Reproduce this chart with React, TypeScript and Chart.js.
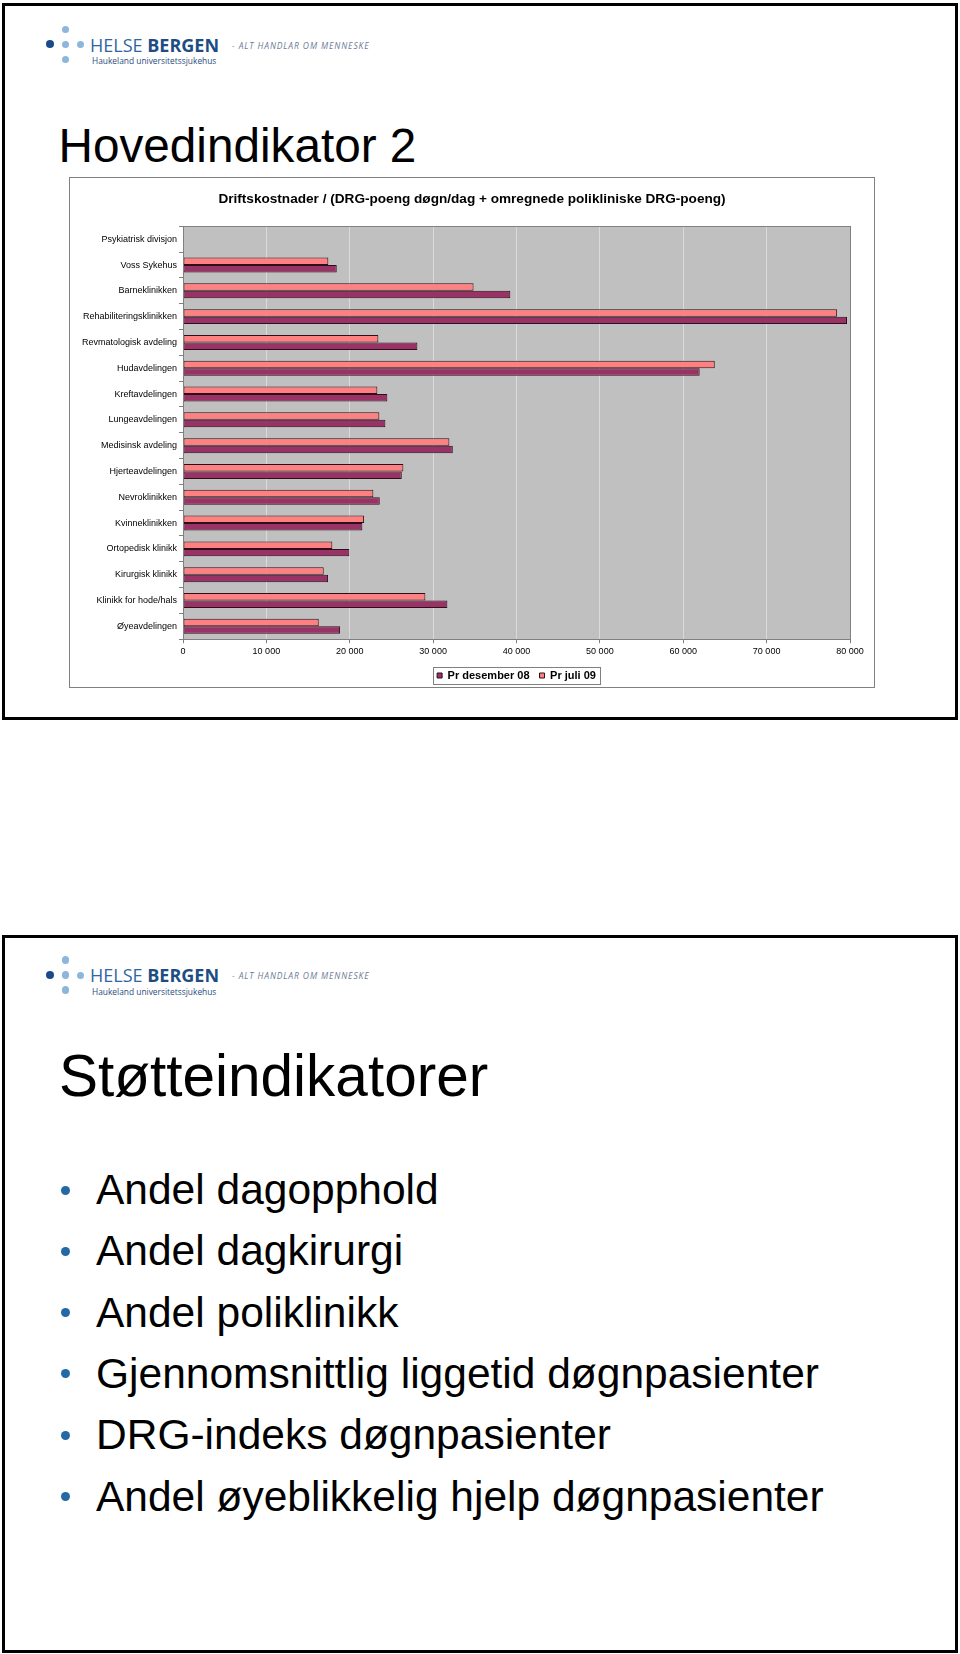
import React, { useEffect, useRef } from 'react';
import { Chart, registerables } from 'chart.js';

Chart.register(...registerables);

// ---- Data ----
const categories = [
  'Psykiatrisk divisjon',
  'Voss Sykehus',
  'Barneklinikken',
  'Rehabiliteringsklinikken',
  'Revmatologisk avdeling',
  'Hudavdelingen',
  'Kreftavdelingen',
  'Lungeavdelingen',
  'Medisinsk avdeling',
  'Hjerteavdelingen',
  'Nevroklinikken',
  'Kvinneklinikken',
  'Ortopedisk klinikk',
  'Kirurgisk klinikk',
  'Klinikk for hode/hals',
  'Øyeavdelingen',
];

const seriesDesember08 = [null, 18440, 39260, 79640, 28110, 61970, 24510, 24270, 32360, 26240, 23600, 21510, 19950, 17400, 31710, 18840];
const seriesJuli09 = [null, 17430, 34850, 78460, 23430, 63780, 23310, 23550, 31950, 26430, 22830, 21720, 17910, 16880, 29070, 16280];

const seriesNames = ['Pr desember 08', 'Pr juli 09'];
const xMin = 0;
const xMax = 80000;
const xStep = 10000;

const chartTitle = 'Driftskostnader / (DRG-poeng døgn/dag + omregnede polikliniske DRG-poeng)';
const slide1Title = 'Hovedindikator 2';
const slide2Title = 'Støtteindikatorer';
const bulletItems = [
  'Andel dagopphold',
  'Andel dagkirurgi',
  'Andel poliklinikk',
  'Gjennomsnittlig liggetid døgnpasienter',
  'DRG-indeks døgnpasienter',
  'Andel øyeblikkelig hjelp døgnpasienter',
];

const FONT = '"Liberation Sans", Arial, Helvetica, sans-serif';
const LOGO_FONT = '"Open Sans", "Noto Sans", sans-serif';

function fmtThousands(v: number | string) {
  return String(v).replace(/\B(?=(\d{3})+(?!\d))/g, ' ');
}

const framePlugin = {
  id: 'excelFrame',
  afterLayout(chart: any) {
    // centre the title over the whole chart box, not the padded area
    const t = chart.titleBlock;
    if (t) {
      t.left = 0;
      t.right = chart.width;
      t.width = chart.width;
    }
  },
  beforeDraw(chart: any) {
    const { ctx, chartArea: a } = chart;
    ctx.save();
    ctx.fillStyle = '#C0C0C0';
    ctx.fillRect(a.left, a.top, a.right - a.left, a.bottom - a.top);
    ctx.restore();
  },
  afterDatasetsDraw(chart: any) {
    const { ctx, chartArea: a } = chart;
    ctx.save();
    ctx.strokeStyle = '#808080';
    ctx.lineWidth = 1;
    ctx.strokeRect(Math.round(a.left) + 0.5, Math.round(a.top) + 0.5, Math.round(a.right - a.left), Math.round(a.bottom - a.top));
    ctx.restore();
  },
  afterDraw(chart: any) {
    const lg = chart.legend;
    if (!lg || !lg.legendHitBoxes || !lg.legendHitBoxes.length) return;
    const hb = lg.legendHitBoxes;
    let l = Infinity, r = -Infinity, t = Infinity, b = -Infinity;
    hb.forEach((h: any) => {
      l = Math.min(l, h.left);
      r = Math.max(r, h.left + h.width);
      t = Math.min(t, h.top);
      b = Math.max(b, h.top + h.height);
    });
    const ctx = chart.ctx;
    ctx.save();
    ctx.strokeStyle = '#808080';
    ctx.lineWidth = 1;
    ctx.strokeRect(Math.round(l - 4) + 0.5, Math.round(t - 3) + 0.5, Math.round(r - l + 8), Math.round(b - t + 6));
    ctx.restore();
  },
};

function BarChart() {
  const ref = useRef<HTMLCanvasElement | null>(null);
  useEffect(() => {
    if (!ref.current) return;
    const chart = new Chart(ref.current, {
      type: 'bar',
      data: {
        labels: categories,
        datasets: [
          {
            label: seriesNames[1],
            data: seriesJuli09 as any,
            backgroundColor: '#FF8080',
            borderColor: '#2E0E1A',
            borderWidth: 1,
            borderSkipped: false,
            categoryPercentage: 0.58,
            barPercentage: 1,
          },
          {
            label: seriesNames[0],
            data: seriesDesember08 as any,
            backgroundColor: '#993366',
            borderColor: '#2E0E1A',
            borderWidth: 1,
            borderSkipped: false,
            categoryPercentage: 0.58,
            barPercentage: 1,
          },
        ],
      },
      options: {
        indexAxis: 'y',
        responsive: false,
        animation: false,
        devicePixelRatio: 1,
        layout: { padding: { left: 0, right: 24, top: 0, bottom: 0 } },
        plugins: {
          title: {
            display: true,
            text: chartTitle,
            color: '#000',
            font: { family: FONT, size: 13.6, weight: 'bold' },
            padding: { top: 13, bottom: 19 },
          },
          legend: {
            position: 'bottom',
            reverse: true,
            fullSize: false,
            labels: {
              boxWidth: 5,
              boxHeight: 5,
              padding: 10,
              color: '#000',
              font: { family: FONT, size: 11, weight: 'bold' },
            },
          },
          tooltip: { enabled: false },
        },
        scales: {
          x: {
            type: 'linear',
            min: xMin,
            max: xMax,
            ticks: {
              stepSize: xStep,
              callback: (v: any) => fmtThousands(v),
              color: '#000',
              font: { family: FONT, size: 9 },
              padding: 3,
              maxRotation: 0,
            },
            grid: { color: '#DADADA', lineWidth: 1, tickColor: '#808080', tickLength: 4 },
            border: { color: '#808080' },
          },
          y: {
            ticks: { color: '#000', font: { family: FONT, size: 9 }, padding: 2, autoSkip: false },
            grid: { display: true, drawOnChartArea: false, drawTicks: true, tickLength: 4, tickColor: '#808080', offset: true },
            border: { color: '#808080' },
            afterFit: (s: any) => {
              s.width = 113;
            },
          },
        },
      } as any,
      plugins: [framePlugin],
    });
    return () => chart.destroy();
  }, []);
  return (
    <canvas
      ref={ref}
      width={804}
      height={513}
      style={{ position: 'absolute', left: 70, top: 178, width: 804, height: 513 }}
    />
  );
}

function Dot({ cx, cy, d, color }: { cx: number; cy: number; d: number; color: string }) {
  return (
    <div
      style={{
        position: 'absolute',
        left: cx - d / 2,
        top: cy - d / 2,
        width: d,
        height: d,
        borderRadius: '50%',
        background: color,
      }}
    />
  );
}

function Logo({ my }: { my: number }) {
  const light = '#8DB6DC';
  const bigSize = 18;
  const bigBase = my + 7.4;
  const smallSize = 8.4;
  const smallBase = my + 20.2;
  const tagSize = 8.5;
  const tagBase = my + 5;
  return (
    <>
      <Dot cx={50} cy={my} d={8} color="#1A4A8A" />
      <Dot cx={65.5} cy={my} d={7.5} color={light} />
      <Dot cx={80.2} cy={my} d={7} color={light} />
      <Dot cx={65.5} cy={my - 15} d={7.5} color={light} />
      <Dot cx={65.5} cy={my + 15} d={7.5} color={light} />
      <div
        style={{
          position: 'absolute',
          left: 90,
          top: bigBase - 0.888 * bigSize,
          fontFamily: LOGO_FONT,
          fontSize: bigSize,
          lineHeight: `${bigSize}px`,
          whiteSpace: 'nowrap',
          color: '#2D66A3',
        }}
      >
        HELSE <span style={{ fontWeight: 'bold', color: '#1C4D84' }}>BERGEN</span>
      </div>
      <div
        style={{
          position: 'absolute',
          left: 92,
          top: smallBase - 0.888 * smallSize,
          fontFamily: LOGO_FONT,
          fontSize: smallSize,
          lineHeight: `${smallSize}px`,
          whiteSpace: 'nowrap',
          color: '#2B4C7E',
        }}
      >
        Haukeland universitetssjukehus
      </div>
      <div
        style={{
          position: 'absolute',
          left: 232,
          top: tagBase - 0.888 * tagSize,
          fontFamily: LOGO_FONT,
          fontSize: tagSize,
          lineHeight: `${tagSize}px`,
          fontStyle: 'italic',
          letterSpacing: 0.9,
          whiteSpace: 'nowrap',
          color: '#6B7B95',
        }}
      >
        - ALT HANDLAR OM MENNESKE
      </div>
    </>
  );
}

function TextAt({ left, base, size, children, color = '#000' }: any) {
  return (
    <div
      style={{
        position: 'absolute',
        left,
        top: base - 0.8465 * size,
        fontFamily: FONT,
        fontSize: size,
        lineHeight: `${size}px`,
        whiteSpace: 'nowrap',
        color,
      }}
    >
      {children}
    </div>
  );
}

export default function App() {
  return (
    <div
      style={{
        position: 'absolute',
        left: 0,
        top: 0,
        width: 960,
        height: 1654,
        background: '#fff',
        overflow: 'hidden',
        fontFamily: FONT,
      }}
    >
      {/* Slide 1 */}
      <div
        style={{
          position: 'absolute',
          left: 2,
          top: 3,
          width: 956,
          height: 717,
          border: '3px solid #000',
          boxSizing: 'border-box',
        }}
      />
      <Logo my={44.3} />
      <TextAt left={58.5} base={162} size={47.7}>
        {slide1Title}
      </TextAt>
      <div
        style={{
          position: 'absolute',
          left: 69,
          top: 177,
          width: 806,
          height: 511,
          border: '1px solid #808080',
          boxSizing: 'border-box',
          background: '#fff',
        }}
      />
      <BarChart />

      {/* Slide 2 */}
      <div
        style={{
          position: 'absolute',
          left: 2,
          top: 935,
          width: 956,
          height: 718,
          border: '3px solid #000',
          boxSizing: 'border-box',
        }}
      />
      <Logo my={975} />
      <TextAt left={59} base={1096.7} size={58.5}>
        {slide2Title}
      </TextAt>
      {bulletItems.map((t, i) => {
        const base = 1205 + i * 61.3;
        return (
          <React.Fragment key={t}>
            <Dot cx={65.5} cy={base - 15} d={9} color="#2469A6" />
            <TextAt left={96} base={base} size={42.5}>
              {t}
            </TextAt>
          </React.Fragment>
        );
      })}
    </div>
  );
}
